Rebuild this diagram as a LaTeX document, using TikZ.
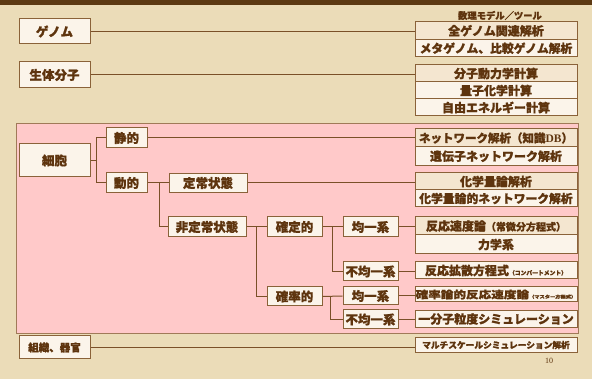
\documentclass[tikz,border=0pt]{standalone}
\usepackage{fontspec}
\usepackage{graphicx}
\setmainfont{Liberation Serif}
\newfontfamily\jp{Noto Sans CJK JP}[BoldFeatures={FakeBold=1.2}]
\newfontfamily\serifb{Liberation Serif}
\usetikzlibrary{calc}
\definecolor{bgc}{HTML}{EBDCB8}
\definecolor{barc}{HTML}{5C3912}
\definecolor{pinkc}{HTML}{FFC9C9}
\definecolor{pinkedge}{HTML}{A07A58}
\definecolor{boxfill}{HTML}{FBF4EA}
\definecolor{boxtan}{HTML}{F4E6D0}
\definecolor{edgec}{HTML}{8A6239}
\definecolor{txtc}{HTML}{5E340E}
\definecolor{linec}{HTML}{7A5028}
\begin{document}
\begin{tikzpicture}[x=1pt,y=1pt,
  box/.style={draw=edgec, line width=1pt, fill=boxfill, rectangle, inner sep=0pt,
    text=txtc, font=\jp\bfseries\fontsize{12.5}{13}\selectfont},
  lbox/.style={box, minimum width=71pt},
  rbox/.style={box, minimum width=162pt, font=\jp\bfseries\fontsize{12}{13}\selectfont},
  mbox/.style={box, minimum width=55pt},
  conn/.style={draw=linec, line width=1pt}]
\useasboundingbox (0,0) rectangle (592,-379);
\fill[bgc] (0,0) rectangle (592,-379);
\fill[barc] (0,0) rectangle (592,-5.5);
% pink region
\draw[pinkedge, line width=0.8pt, fill=pinkc] (16,-123) rectangle (578,-333);

\node[text=txtc, font=\jp\bfseries\fontsize{9.3}{10}\selectfont] (head) at (500,-15.5) {数理モデル／ツール};

% left boxes
\node[lbox, minimum height=25pt] (genome) at (54.5,-31.5) {ゲノム};
\node[lbox, minimum height=26pt] (seitai) at (54.5,-75) {生体分子};
\node[lbox, minimum height=33pt] (saibou) at (54.5,-160.5) {細胞};
\node[lbox, minimum height=23pt, font=\jp\bfseries\fontsize{10.5}{11}\selectfont] (soshiki) at (54.5,-347.5) {組織、器官};

% right boxes
\node[rbox, minimum height=17.5pt, fill=boxtan] (r1) at (496,-30.75) {全ゲノム関連解析};
\node[rbox, minimum height=17.5pt, font=\jp\bfseries\fontsize{11.8}{12}\selectfont] (r2) at (496,-48.25) {メタゲノム、比較ゲノム解析};
\node[rbox, minimum height=17pt, fill=boxtan] (r3) at (496,-73.5) {分子動力学計算};
\node[rbox, minimum height=17pt] (r4) at (496,-90.5) {量子化学計算};
\node[rbox, minimum height=17pt] (r5) at (496,-107.5) {自由エネルギー計算};
\node[rbox, minimum height=18pt, fill=boxtan, font=\jp\bfseries\fontsize{11.5}{12}\selectfont] (r6) at (496,-138) {ネットワーク解析（知識{\serifb\bfseries DB}）};
\node[rbox, minimum height=18.5pt] (r7) at (496,-156.25) {遺伝子ネットワーク解析};
\node[rbox, minimum height=17pt, fill=boxtan] (r8) at (496,-181.5) {化学量論解析};
\node[rbox, minimum height=17pt, font=\jp\bfseries\fontsize{11.8}{12}\selectfont] (r9) at (496,-198.5) {化学量論的ネットワーク解析};
\node[rbox, minimum height=18pt, fill=boxtan] (r10) at (496,-226) {反応速度論{\fontsize{10}{11}\selectfont（常微分方程式）}};
\node[rbox, minimum height=19pt] (r11) at (496,-244.5) {力学系};
\node[rbox, minimum height=17pt] (r12) at (496,-270.5) {反応拡散方程式{\fontsize{5.8}{6}\selectfont（コンパートメント）}};
\node[rbox, minimum height=15pt] (r13) at (496,-294.5) {\scalebox{1.05}[0.85]{確率論的反応速度論{\fontsize{5}{6}\selectfont（マスター方程式）}}};
\node[rbox, minimum height=16.5pt] (r14) at (496,-319) {一分子粒度シミュレーション};
\node[rbox, minimum height=14.5pt, font=\jp\bfseries\fontsize{8.7}{9}\selectfont] (r15) at (496,-345) {マルチスケールシミュレーション解析};

% middle boxes
\node[box, minimum width=41pt, minimum height=20pt] (seiteki) at (126.5,-138) {静的};
\node[box, minimum width=41pt, minimum height=20pt] (douteki) at (126.5,-183) {動的};
\node[box, minimum width=78pt, minimum height=19pt] (teijo) at (208,-183) {定常状態};
\node[box, minimum width=78pt, minimum height=20pt] (hiteijo) at (207,-227) {非定常状態};
\node[mbox, minimum height=20pt] (kakutei) at (294.5,-227) {確定的};
\node[mbox, minimum height=19pt] (kakuritsu) at (294.5,-296.5) {確率的};
\node[mbox, minimum height=20pt] (kin1) at (370.5,-227) {均一系};
\node[mbox, minimum height=19pt] (fukin1) at (370.5,-271.5) {不均一系};
\node[mbox, minimum height=18pt] (kin2) at (370.5,-296) {均一系};
\node[mbox, minimum height=19pt] (fukin2) at (370.5,-319.5) {不均一系};

\node[text=txtc, font=\serifb\fontsize{8}{9}\selectfont] (pnum) at (549,-361) {10};

% connectors
\draw[conn] (genome.east) -- (genome.east -| r1.west);
\draw[conn] (seitai.east) -- (seitai.east -| r3.west);
\coordinate (j1) at ($(saibou.east)+(6,0)$);
\draw[conn] (saibou.east) -- (j1) |- (seiteki.west);
\draw[conn] (j1) |- (douteki.west);
\draw[conn] (seiteki.east) -- (seiteki.east -| r6.west);
\draw[conn] (douteki.east) -- (teijo.west);
\coordinate (j2) at (159,-183);
\draw[conn] (j2) |- (hiteijo.west);
\draw[conn] (teijo.east) -- (teijo.east -| r8.west);
\draw[conn] (hiteijo.east) -- (kakutei.west);
\coordinate (j3) at (256,-227);
\draw[conn] (j3) |- (kakuritsu.west);
\draw[conn] (kakutei.east) -- (kin1.west);
\coordinate (j4) at (332,-227);
\draw[conn] (j4) |- (fukin1.west);
\draw[conn] (kin1.east) -- (kin1.east -| r10.west);
\draw[conn] (fukin1.east) -- (fukin1.east -| r12.west);
\draw[conn] (kakuritsu.east) -- (kin2.west);
\coordinate (j5) at (330,-296.5);
\draw[conn] (j5) |- (fukin2.west);
\draw[conn] (kin2.east) -- (kin2.east -| r13.west);
\draw[conn] (fukin2.east) -- (fukin2.east -| r14.west);
\draw[conn] (soshiki.east) -- (soshiki.east -| r15.west);
\end{tikzpicture}
\end{document}
